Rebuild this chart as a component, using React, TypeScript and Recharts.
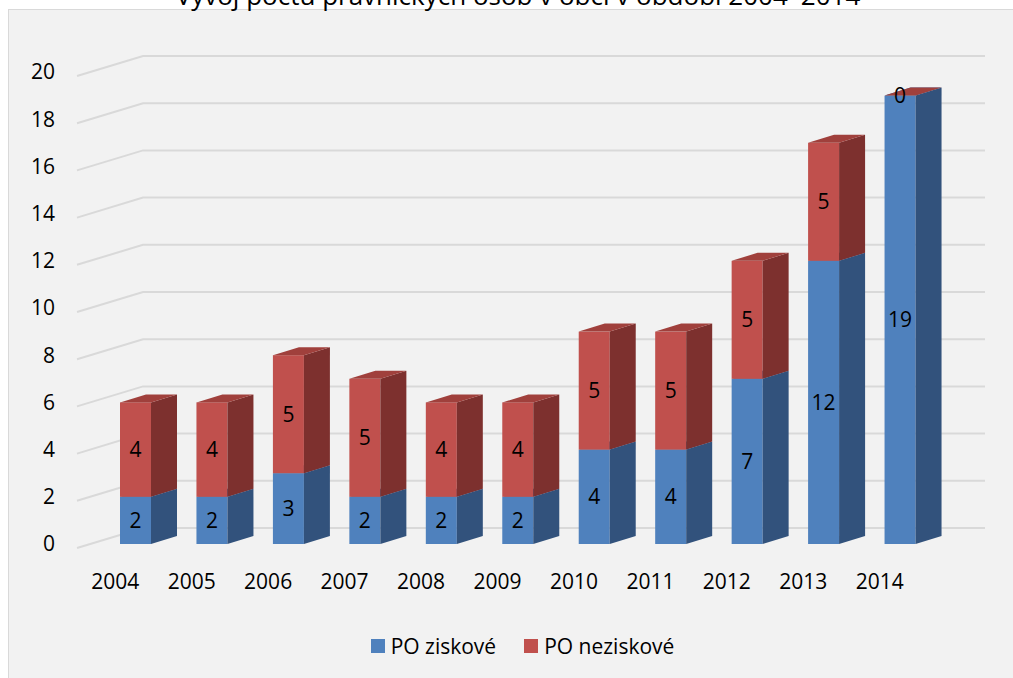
import { BarChart, Bar, XAxis, YAxis, CartesianGrid, LabelList, Legend } from "recharts";

const years = ["2004", "2005", "2006", "2007", "2008", "2009", "2010", "2011", "2012", "2013", "2014"];
const profitCounts = [2, 2, 3, 2, 2, 2, 4, 4, 7, 12, 19];
const nonProfitCounts = [4, 4, 5, 5, 4, 4, 5, 5, 5, 5, 0];
const yTicks = [0, 2, 4, 6, 8, 10, 12, 14, 16, 18, 20];

const data = years.map((year, i) => ({
  year,
  profit: profitCounts[i],
  nonProfit: nonProfitCounts[i],
}));

const FONT = "'Open Sans', sans-serif";
// 3D look: how far the side/top faces are pushed back
const DX = 26;
const DY = 8;

const box = (front: string, side: string, top: string) => (props: any) => {
  const { x, y, width, height } = props;
  const r = x + width;
  return (
    <g>
      <rect x={x} y={y} width={width} height={height} fill={front} />
      <polygon
        points={`${r},${y} ${r + DX},${y - DY} ${r + DX},${y + height - DY} ${r},${y + height}`}
        fill={side}
      />
      <polygon
        points={`${x},${y} ${x + DX},${y - DY} ${r + DX},${y - DY} ${r},${y}`}
        fill={top}
      />
    </g>
  );
};

const gridLine = (props: any) => {
  const { x1, x2, y1, key } = props;
  return (
    <path
      key={key}
      d={`M${x1 - 20},${y1 + 4}L${x1 + 46},${y1 - 16}L${x2 + 47},${y1 - 16}`}
      stroke="#d9d9d9"
      strokeWidth={2}
      fill="none"
    />
  );
};

const yearTick = (props: any) => {
  const { x, y, payload } = props;
  return (
    <text x={x - 20} y={y + 35} textAnchor="middle" dominantBaseline="central" fill="#000" fontSize={21} fontFamily={FONT}>
      {payload.value}
    </text>
  );
};

const legendContent = () => (
  <div style={{ display: "flex", justifyContent: "center", alignItems: "center", height: 30, fontFamily: FONT, fontSize: 21, color: "#000", paddingLeft: 32 }}>
    <span style={{ width: 14, height: 14, background: "#4f81bd", marginRight: 6 }} />
    <span style={{ marginRight: 28 }}>PO ziskové</span>
    <span style={{ width: 14, height: 14, background: "#c0504d", marginRight: 6 }} />
    <span>PO neziskové</span>
  </div>
);

export default function App() {
  return (
    <div style={{ position: "absolute", left: 0, top: 0, width: 1013, height: 678, overflow: "hidden", background: "#fff" }}>
      <div style={{ position: "absolute", left: 8, top: 9, width: 1013, height: 700, border: "1px solid #d9d9d9", background: "#f2f2f2" }} />
      <svg width={1013} height={20} style={{ position: "absolute", left: 0, top: 0 }}>
        <text x={518} y={5} textAnchor="middle" fontFamily={FONT} fontSize={26} fill="#000">
          Vývoj počtu právnických osob v obci v období 2004–2014
        </text>
      </svg>
      <div style={{ position: "absolute", left: 0, top: 0 }}>
        <BarChart
          width={1013}
          height={678}
          data={data}
          margin={{ top: 72, right: 75, bottom: 64, left: 37 }}
          style={{ fontFamily: FONT }}
        >
          <CartesianGrid vertical={false} horizontal={gridLine} />
          <XAxis dataKey="year" axisLine={false} tickLine={false} tickSize={0} height={40} interval={0} tick={yearTick} />
          <YAxis
            domain={[0, 20]}
            ticks={yTicks}
            interval={0}
            axisLine={false}
            tickLine={false}
            tickSize={0}
            tickMargin={42}
            width={60}
            tick={{ fill: "#000", fontSize: 21 }}
          />
          <Legend verticalAlign="bottom" wrapperStyle={{ top: 631, bottom: "auto", left: 0, width: 1013 }} content={legendContent} />
          <Bar dataKey="profit" stackId="a" barSize={31} fill="#4f81bd" shape={box("#4f81bd", "#32527c", "#3e6599")} isAnimationActive={false}>
            <LabelList dataKey="profit" position="center" fill="#000" fontSize={21} />
          </Bar>
          <Bar dataKey="nonProfit" stackId="a" barSize={31} fill="#c0504d" shape={box("#c0504d", "#7d302e", "#a0403c")} isAnimationActive={false}>
            <LabelList dataKey="nonProfit" position="center" fill="#000" fontSize={21} />
          </Bar>
        </BarChart>
      </div>
    </div>
  );
}
